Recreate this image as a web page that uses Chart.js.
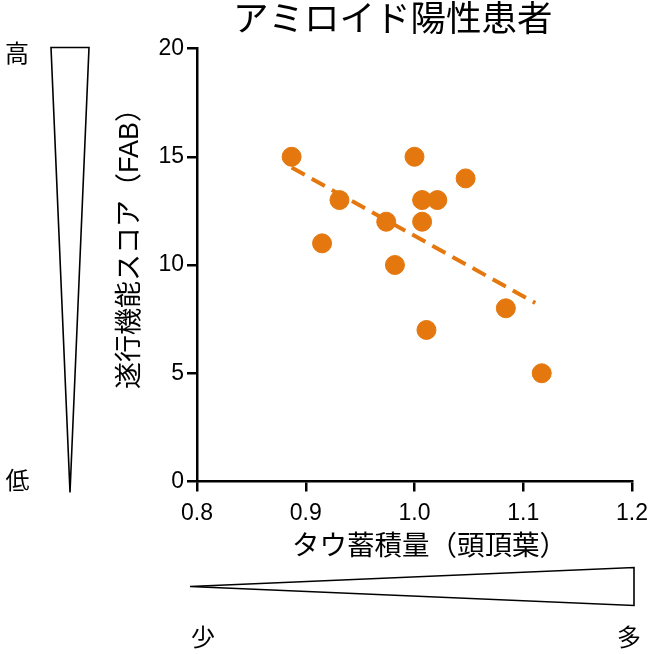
<!DOCTYPE html>
<html lang="ja">
<head>
<meta charset="utf-8">
<title>アミロイド陽性患者</title>
<script src="https://cdn.jsdelivr.net/npm/chart.js@4"></script>
<style>
    html, body { margin: 0; padding: 0; background: #fff; }
    #wrap { width: 650px; height: 654px; position: relative; }
</style>
</head>
<body>
<div id="wrap"><canvas id="myChart"></canvas></div>
<script>
//Data_
const tauX = [0.887, 0.915, 0.931, 0.974, 0.982, 1.000, 1.007, 1.007, 1.011, 1.021, 1.047, 1.084, 1.117];
const fabY = [15, 11, 13, 12, 10, 15, 13, 12, 7, 13, 14, 8, 5];
const trendX = [0.887, 1.111];
const trendY = [14.5, 8.25];
const xTicks = [0.8, 0.9, 1.0, 1.1, 1.2];
const yTicks = [0, 5, 10, 15, 20];

//Texts_
const chartTitle = 'アミロイド陽性患者';
const xTitle = 'タウ蓄積量（頭頂葉）';
const yTitle = '遂行機能スコア（FAB）';
const yHigh = '高';
const yLow = '低';
const xLow = '少';
const xHigh = '多';

//Variables_
const graph = document.getElementById('myChart');
const orange = '#E4780E';
const fontFam = '"Liberation Sans", Arial, "Noto Sans CJK JP", sans-serif';
let chart;

function toPoints(xs, ys) {
    return xs.map((x, i) => ({ x: x, y: ys[i] }));
}

//Plugin for the titles and the two wedges
const decorations = {
    id: 'decorations',
    beforeDraw(c) {
        const ctx = c.ctx;
        ctx.save();
        ctx.fillStyle = '#fff';
        ctx.fillRect(0, 0, c.width, c.height);
        ctx.restore();
    },
    afterDraw(c) {
        const ctx = c.ctx;
        ctx.save();
        ctx.fillStyle = '#000';
        ctx.textBaseline = 'middle';

        // main title
        ctx.font = '35.5px ' + fontFam;
        ctx.textAlign = 'left';
        ctx.fillText(chartTitle, 233, 21);

        // x title
        ctx.font = '27.5px ' + fontFam;
        ctx.fillText(xTitle, 292, 547);

        // y title
        ctx.font = '27px ' + fontFam;
        ctx.save();
        ctx.translate(131, 389);
        ctx.rotate(-Math.PI / 2);
        ctx.fillText(yTitle, 0, 0);
        ctx.restore();

        // wedges
        ctx.lineWidth = 1.6;
        ctx.strokeStyle = '#000';
        ctx.fillStyle = '#fff';
        ctx.beginPath();
        ctx.moveTo(51, 47.5);
        ctx.lineTo(89, 47.5);
        ctx.lineTo(70, 492.5);
        ctx.closePath();
        ctx.fill();
        ctx.stroke();

        ctx.beginPath();
        ctx.moveTo(190, 586.5);
        ctx.lineTo(634, 567.5);
        ctx.lineTo(634, 605.5);
        ctx.closePath();
        ctx.fill();
        ctx.stroke();

        // wedge labels
        ctx.fillStyle = '#000';
        ctx.font = '24px ' + fontFam;
        ctx.textAlign = 'center';
        ctx.fillText(yHigh, 17, 55);
        ctx.fillText(yLow, 17.5, 482);
        ctx.fillText(xLow, 203, 639);
        ctx.fillText(xHigh, 629, 639);
        ctx.restore();
    }
};

//Graphs
function graphs() {
    const axisLine = { display: true, color: '#000', width: 2.5 };
    const tickMarks = { drawOnChartArea: false, drawTicks: true, tickLength: 10, color: '#000', lineWidth: 2.5 };

    const config = {
        type: 'scatter',
        data: {
            datasets: [
                {
                    label: 'trend',
                    data: toPoints(trendX, trendY),
                    showLine: true,
                    borderColor: orange,
                    borderWidth: 4,
                    borderDash: [15, 8],
                    pointRadius: 0,
                    pointHoverRadius: 0,
                    fill: false
                },
                {
                    label: 'FAB',
                    data: toPoints(tauX, fabY),
                    backgroundColor: orange,
                    borderColor: orange,
                    borderWidth: 1,
                    pointRadius: 9.5,
                    pointHoverRadius: 9.5
                }
            ]
        },
        options: {
            responsive: true,
            maintainAspectRatio: false,
            animation: false,
            layout: { padding: { left: 100, top: 48.5, right: 18, bottom: 92.5 } },
            plugins: {
                legend: { display: false },
                title: { display: false },
                tooltip: { enabled: false }
            },
            scales: {
                x: {
                    type: 'linear',
                    min: 0.8,
                    max: 1.2,
                    afterBuildTicks: (scale) => { scale.ticks = xTicks.map(v => ({ value: v })); },
                    afterFit: (scale) => {
                        scale.height = 80;
                        scale.paddingLeft = 0;
                        scale.paddingRight = 0;
                    },
                    ticks: {
                        color: '#000',
                        padding: 8,
                        font: { size: 23, family: fontFam },
                        callback: (value) => Number(value).toFixed(1)
                    },
                    grid: tickMarks,
                    border: axisLine
                },
                y: {
                    type: 'linear',
                    min: 0,
                    max: 20,
                    afterBuildTicks: (scale) => { scale.ticks = yTicks.map(v => ({ value: v })); },
                    afterFit: (scale) => {
                        scale.width = 97;
                        scale.paddingTop = 0;
                        scale.paddingBottom = 0;
                    },
                    ticks: {
                        color: '#000',
                        padding: 3,
                        font: { size: 23, family: fontFam }
                    },
                    grid: tickMarks,
                    border: axisLine
                }
            }
        },
        plugins: [decorations]
    };

    if (chart) chart.destroy();
    chart = new Chart(graph, config);
}

//FunctionCall_
graphs();
</script>
</body>
</html>
